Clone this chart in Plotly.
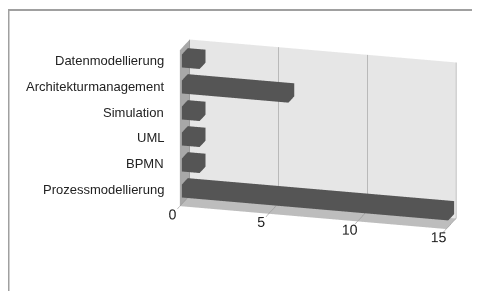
import plotly.graph_objects as go

categories = ["Prozessmodellierung", "BPMN", "UML", "Simulation",
              "Architekturmanagement", "Datenmodellierung"]
values = [15, 1, 1, 1, 6, 1]
x_ticks = [0, 5, 10, 15]

# bar geometry (in data units)
HALF_H = 0.25
Y0, Y1 = 0.2, 0.8

xs, ys, zs, I, J, K = [], [], [], [], [], []
faces = [(0, 1, 2), (0, 2, 3), (4, 5, 6), (4, 6, 7), (0, 1, 5), (0, 5, 4),
         (3, 2, 6), (3, 6, 7), (0, 3, 7), (0, 7, 4), (1, 2, 6), (1, 6, 5)]
for idx, v in enumerate(values):
    base = len(xs)
    z0, z1 = idx - HALF_H, idx + HALF_H
    for (cx, cy, cz) in [(0, 0, 0), (1, 0, 0), (1, 1, 0), (0, 1, 0),
                         (0, 0, 1), (1, 0, 1), (1, 1, 1), (0, 1, 1)]:
        xs.append(v * cx)
        ys.append(Y1 if cy else Y0)
        zs.append(z1 if cz else z0)
    for a, b, c in faces:
        I.append(base + a); J.append(base + b); K.append(base + c)

fig = go.Figure()
fig.add_trace(go.Mesh3d(
    x=xs, y=ys, z=zs, i=I, j=J, k=K,
    color="#6a6a6a", flatshading=True,
    lighting=dict(ambient=0.8, diffuse=0.4, specular=0.05, roughness=0.9, fresnel=0.1),
    lightposition=dict(x=-100, y=-200, z=300),
    hoverinfo="skip", showscale=False,
))

annotations = [dict(x=0, y=0, z=i, text=c, showarrow=False, xanchor="right",
                    xshift=-14, yshift=3,
                    font=dict(family="Liberation Sans", size=13, color="#222"))
               for i, c in enumerate(categories)]

s = 1.28
eye = dict(x=0.261 * s, y=-0.923 * s, z=0.283 * s)
k = 1.26

fig.update_layout(
    width=472, height=283,
    margin=dict(l=0, r=0, t=0, b=0),
    paper_bgcolor="white",
    showlegend=False,
    font=dict(family="Liberation Sans", size=12, color="#222"),
    scene=dict(
        domain=dict(x=[0.314, 1.0], y=[0.082, 1.0]),
        aspectmode="manual",
        aspectratio=dict(x=1.69 * k, y=0.22 * k, z=1.0 * k),
        camera=dict(eye=eye, up=dict(x=0, y=0, z=1), center=dict(x=0, y=0, z=-0.03),
                    projection=dict(type="orthographic")),
        xaxis=dict(range=[0, 15], tickvals=x_ticks, title=dict(text=""),
                   tickangle=0,
                   showbackground=True, backgroundcolor="#a8a8a8",
                   showgrid=True, gridcolor="#8c8c8c", gridwidth=1,
                   zeroline=False, showline=False, ticks="outside", ticklen=4,
                   tickcolor="#888", tickfont=dict(size=13, color="#222"),
                   showspikes=False),
        yaxis=dict(range=[0, 1], showticklabels=False, title=dict(text=""),
                   showbackground=True, backgroundcolor="#e6e6e6",
                   showgrid=False, zeroline=False, showline=False, ticks="",
                   showspikes=False),
        zaxis=dict(range=[-0.5, 5.5], showticklabels=False, title=dict(text=""),
                   tickvals=list(range(len(categories))),
                   showbackground=True, backgroundcolor="#bdbdbd",
                   showgrid=False, zeroline=False, showline=False, ticks="",
                   showspikes=False),
        annotations=annotations,
        dragmode=False,
    ),
    shapes=[dict(type="rect", xref="paper", yref="paper",
                 x0=0.5 / 472, x1=1.5, y0=-0.5, y1=1 - 2 / 283,
                 line=dict(color="#a0a0a0", width=2), fillcolor="rgba(0,0,0,0)",
                 layer="below")],
)

fig.write_html("out.html")
